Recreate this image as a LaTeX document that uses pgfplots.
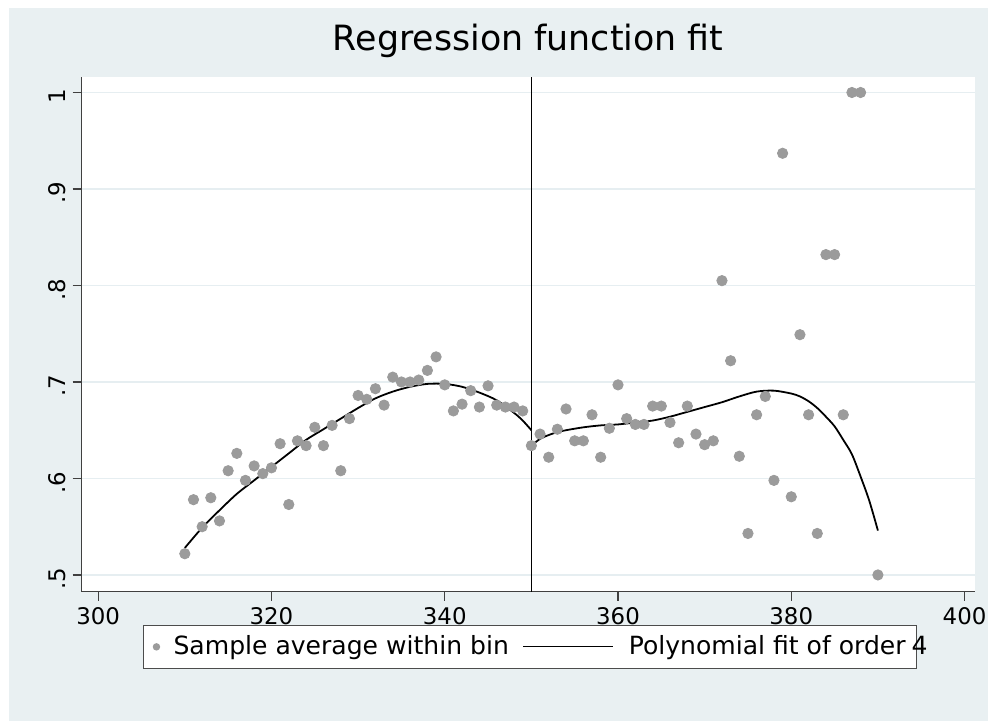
\documentclass[border=0pt]{standalone}
\usepackage{fontspec}
\setmainfont{DejaVu Sans}
\usepackage{pgfplots}
\usepackage{pgfplotstable}
\pgfplotsset{compat=1.18}

\definecolor{stbg}{HTML}{E9F0F2}
\definecolor{stgrid}{HTML}{E6EEF1}
\definecolor{dotgray}{HTML}{9B9B9B}

% bin averages
\pgfplotstableread{
x y
310 0.522
311 0.578
312 0.550
313 0.580
314 0.556
315 0.608
316 0.626
317 0.598
318 0.613
319 0.605
320 0.611
321 0.636
322 0.573
323 0.639
324 0.634
325 0.653
326 0.634
327 0.655
328 0.608
329 0.662
330 0.686
331 0.682
332 0.693
333 0.676
334 0.705
335 0.700
336 0.700
337 0.702
338 0.712
339 0.726
340 0.697
341 0.670
342 0.677
343 0.691
344 0.674
345 0.696
346 0.676
347 0.674
348 0.674
349 0.670
350 0.634
351 0.646
352 0.622
353 0.651
354 0.672
355 0.639
356 0.639
357 0.666
358 0.622
359 0.652
360 0.697
361 0.662
362 0.656
363 0.656
364 0.675
365 0.675
366 0.658
367 0.637
368 0.675
369 0.646
370 0.635
371 0.639
372 0.805
373 0.722
374 0.623
375 0.543
376 0.666
377 0.685
378 0.598
379 0.937
380 0.581
381 0.749
382 0.666
383 0.543
384 0.832
385 0.832
386 0.666
387 1.000
388 1.000
390 0.500
}\bins

% fitted polynomial, left of cutoff
\pgfplotstableread{
x y
310 0.528
312 0.549
314 0.567
316 0.584
318 0.598
320 0.612
322 0.626
324 0.640
326 0.651
328 0.662
330 0.673
332 0.683
334 0.690
336 0.695
338 0.698
340 0.698
342 0.695
344 0.689
346 0.681
348 0.668
349 0.660
350 0.650
}\fitleft

% fitted polynomial, right of cutoff
\pgfplotstableread{
x y
350 0.634
351 0.641
352 0.645
353 0.648
354 0.650
356 0.653
358 0.655
360 0.656
362 0.658
364 0.660
366 0.664
368 0.669
370 0.674
372 0.679
374 0.685
376 0.690
378 0.691
380 0.688
381 0.685
382 0.680
383 0.673
384 0.664
385 0.654
386 0.640
387 0.625
388 0.602
389 0.577
390 0.546
}\fitright

\begin{document}
\begin{tikzpicture}
\fill[white] (-41pt,-65pt) rectangle (455.5pt,297.5pt);
\fill[stbg] (-36.5pt,-65pt) rectangle (455.5pt,293.5pt);
\begin{axis}[
    scale only axis,
    width=449pt, height=259pt,
    xmin=298.08, xmax=401.18,
    ymin=0.4825, ymax=1.0165,
    axis x line*=bottom, axis y line*=left,
    axis line style={black!75, line width=0.6pt},
    axis background/.style={fill=white},
    xtick={300,320,340,360,380,400},
    ytick={0.5,0.6,0.7,0.8,0.9,1},
    yticklabels={.5,.6,.7,.8,.9,1},
    tick align=outside,
    major tick length=4.5pt,
    tick style={black!75, line width=0.6pt},
    ymajorgrids,
    grid style={stgrid, line width=0.8pt},
    /pgf/number format/assume math mode=true,
    /pgf/number format/1000 sep={},
    tick label style={font=\fontsize{11.5}{13}\selectfont},
    yticklabel style={rotate=90, anchor=south, xshift=-2pt},
    title={Regression function fit},
    title style={font=\fontsize{17.5}{20}\selectfont, at={(0.5,1)}, anchor=base, yshift=7pt},
    legend columns=2,
    legend cell align=left,
    legend style={at={(0.502,-0.064)}, anchor=north, draw=black!70, line width=0.5pt,
        fill=white, font=\fontsize{12.6}{15}\selectfont, inner ysep=3.3pt,
        /tikz/every even column/.append style={column sep=5pt}},
]
\addplot[only marks, mark=*, mark size=2.6pt, color=dotgray,
    legend image code/.code={\path[draw=none, fill=none] (-3.6pt,0pt) -- (6.6pt,0pt);
        \fill[dotgray] (0pt,0pt) circle (1.6pt);}]
    table[x=x, y=y] {\bins};
\addlegendentry{Sample average within bin}
\addplot[black, line width=0.9pt, smooth,
    legend image code/.code={\path[draw=none] (0pt,0pt) -- (51pt,0pt);
        \draw[black, line width=0.6pt] (0pt,0pt) -- (45pt,0pt);}]
    table[x=x, y=y] {\fitleft};
\addlegendentry{Polynomial fit of order\rlap{\kern3pt 4}\kern0.5pt}
\addplot[black, line width=0.9pt, smooth, forget plot] table[x=x, y=y] {\fitright};
\addplot[black, line width=0.8pt, forget plot] coordinates {(350,0.4825) (350,1.0165)};
\end{axis}
\end{tikzpicture}
\end{document}
